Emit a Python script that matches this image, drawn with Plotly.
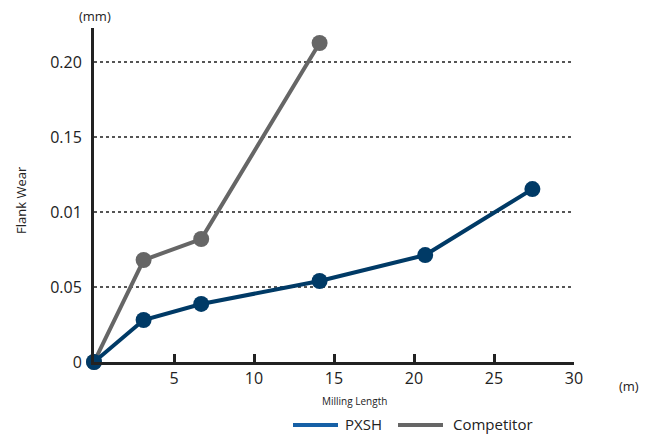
import plotly.graph_objects as go

pxsh_x = [0, 3.1, 6.7, 14.1, 20.7, 27.4]
pxsh_y = [0, 0.028, 0.0387, 0.054, 0.0713, 0.1153]
comp_x = [0, 3.1, 6.7, 14.1]
comp_y = [0, 0.068, 0.082, 0.2127]

x_ticks = [5, 10, 15, 20, 25, 30]
y_ticks = [0, 0.05, 0.10, 0.15, 0.20]
y_ticktext = ["0", "0.05", "0.01", "0.15", "0.20"]

NAVY = "#003a66"
GRAY = "#666666"
FONT = "Open Sans"
TXT = "#222222"

fig = go.Figure()
fig.add_trace(go.Scatter(x=comp_x, y=comp_y, mode="lines+markers", name="Competitor",
                         line=dict(color=GRAY, width=4), marker=dict(color=GRAY, size=16),
                         cliponaxis=False, showlegend=False))
fig.add_trace(go.Scatter(x=pxsh_x, y=pxsh_y, mode="lines+markers", name="PXSH",
                         line=dict(color=NAVY, width=4), marker=dict(color=NAVY, size=16),
                         cliponaxis=False, showlegend=False))

OFF = 8  # page body margin
W, H = 651 - OFF, 434 - OFF
L, T = 94 - OFF, 28 - OFF
R = W - (574 - OFF)
B = H - (362 - OFF)
pw, ph = W - L - R, H - T - B

def px(x):
    return (x - OFF - L) / pw

def py(y):
    return (H - B - (y - OFF)) / ph

LEG_Y = 424

fig.update_layout(
    width=W, height=H,
    margin=dict(l=L, r=R, t=T, b=B),
    paper_bgcolor="white", plot_bgcolor="white",
    font=dict(family=FONT, color=TXT, size=15),
    xaxis=dict(range=[0, 30], tickvals=x_ticks, showgrid=False, zeroline=False,
               showline=True, linecolor="#222222", linewidth=3,
               ticks="inside", ticklen=8, tickwidth=2.5, tickcolor="#222222",
               tickfont=dict(size=16, family=FONT, color=TXT)),
    yaxis=dict(range=[0, 0.2227], tickvals=y_ticks, ticktext=y_ticktext,
               showgrid=True, gridcolor="#555555", gridwidth=1.5, griddash="dot",
               zeroline=False, showline=True, linecolor="#222222", linewidth=3,
               ticks="", ticklabelstandoff=6, tickfont=dict(size=16, family=FONT, color=TXT)),
    shapes=[
        dict(type="line", xref="paper", yref="paper", x0=px(293), x1=px(338), y0=py(425), y1=py(425),
             line=dict(color="#1660a6", width=4)),
        dict(type="line", xref="paper", yref="paper", x0=px(398), x1=px(443), y0=py(425), y1=py(425),
             line=dict(color=GRAY, width=4)),
    ],
    annotations=[
        dict(text="(mm)", xref="paper", yref="paper", x=px(95), y=py(16), showarrow=False,
             xanchor="center", yanchor="middle", font=dict(size=13, family=FONT, color=TXT)),
        dict(text="(m)", xref="paper", yref="paper", x=px(629), y=py(386), showarrow=False,
             xanchor="center", yanchor="middle", font=dict(size=13, family=FONT, color=TXT)),
        dict(text="Milling Length", xref="paper", yref="paper", x=px(354), y=py(401), showarrow=False,
             xanchor="center", yanchor="middle", font=dict(size=10, family=FONT, color=TXT)),
        dict(text="Flank Wear", xref="paper", yref="paper", x=px(21), y=py(200), showarrow=False,
             textangle=-90, xanchor="center", yanchor="middle", font=dict(size=13, family=FONT, color=TXT)),
        dict(text="PXSH", xref="paper", yref="paper", x=px(343), y=py(LEG_Y), showarrow=False,
             xanchor="left", yanchor="middle", font=dict(size=15, family=FONT, color=TXT)),
        dict(text="Competitor", xref="paper", yref="paper", x=px(451), y=py(LEG_Y), showarrow=False,
             xanchor="left", yanchor="middle", font=dict(size=15, family=FONT, color=TXT)),
    ],
)

fig.write_html("out.html")
